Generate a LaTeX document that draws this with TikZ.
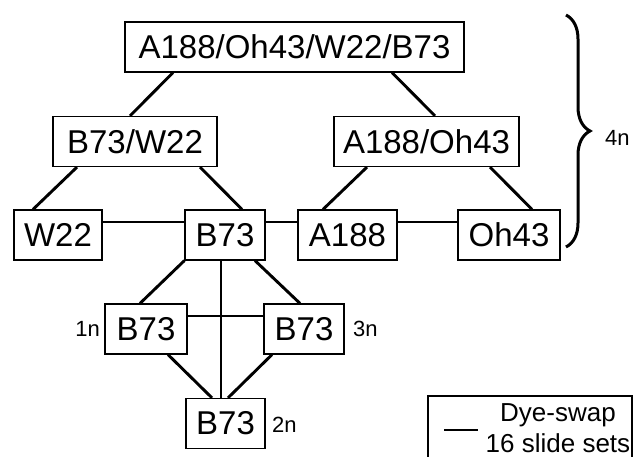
\documentclass[tikz,border=0pt]{standalone}
\usepackage{fontspec}
\setmainfont{Liberation Sans}
\usetikzlibrary{decorations.pathreplacing}

\begin{document}
\begin{tikzpicture}[x=1pt, y=-1pt,
  box/.style={draw, line width=1.2pt, inner sep=0pt, minimum height=50pt, font=\fontsize{33}{38}\selectfont},
  link/.style={line width=2.9pt},
  tag/.style={inner sep=0pt, font=\fontsize{22}{26}\selectfont}]
  \clip (0,0) rectangle (640,457);
  % pools of lines
  \node[box, minimum width=339pt] (all) at (294.5,47) {A188/Oh43/W22/B73};
  \node[box, minimum width=164pt] (bw) at (135,141.5) {B73/W22};
  \node[box, minimum width=185pt] (ao) at (426.5,141.5) {A188/Oh43};
  % single lines
  \node[box, minimum width=88pt] (w22) at (58,235) {W22};
  \node[box, minimum width=80pt] (b73) at (225,235) {B73};
  \node[box, minimum width=99pt] (a188) at (347.5,235) {A188};
  \node[box, minimum width=102pt] (oh43) at (509,235) {Oh43};
  % B73 self-hybridisations
  \node[box, minimum width=82pt] (b1) at (146,329) {B73};
  \node[box, minimum width=80pt] (b3) at (304,329) {B73};
  \node[box, minimum width=79pt] (b2) at (225.5,423.5) {B73};
  \node[tag, anchor=east] (t1) at (100,329) {1n};
  \node[tag, anchor=west] (t3) at (353,329) {3n};
  \node[tag, anchor=west] (t2) at (272,425) {2n};

  % dye-swaps
  \draw[link] ([xshift=-121.5pt]all.south) -- ([xshift=-5pt]bw.north);
  \draw[link] ([xshift=97.5pt]all.south) -- ([xshift=8.5pt]ao.north);
  \draw[link] ([xshift=-58pt]bw.south) -- ([xshift=-25pt]w22.north);
  \draw[link] ([xshift=65pt]bw.south) -- ([xshift=17pt]b73.north);
  \draw[link] ([xshift=-59.5pt]ao.south) -- ([xshift=-24.5pt]a188.north);
  \draw[link] ([xshift=63.5pt]ao.south) -- ([xshift=23pt]oh43.north);
  \draw[link] ([yshift=13pt]w22.east) -- ([yshift=13pt]b73.west);
  \draw[link] ([yshift=13pt]b73.east) -- ([yshift=13pt]a188.west);
  \draw[link] ([yshift=13pt]a188.east) -- ([yshift=13pt]oh43.west);
  \draw[link] (b73.south west) -- ([xshift=-6pt]b1.north);
  \draw[link] ([xshift=30pt]b73.south) -- ([xshift=-4pt]b3.north);
  \draw[link] ([xshift=-4pt]b73.south) -- ([xshift=-4.5pt]b2.north);
  \draw[link] ([yshift=13pt]b1.east) -- ([yshift=13pt]b3.west);
  \draw[link] ([xshift=22pt]b1.south) -- ([xshift=-13.5pt]b2.north);
  \draw[link] ([xshift=-32pt]b3.south) -- ([xshift=2.5pt]b2.north);

  % brace over the top three rows
  \draw[line width=3pt, decorate, decoration={brace, amplitude=24pt}] (566,15) -- (566,247);
  \node[tag, anchor=west] (t4) at (605,138) {4n};

  % legend
  \draw[line width=1.2pt] (428,396) rectangle (632,470);
  \coordinate (ka) at (444,430);
  \coordinate (kb) at (478,430);
  \draw[link] (ka) -- (kb);
  \node[align=center, inner sep=0pt, font=\fontsize{26}{31}\selectfont] (key) at (558,428) {Dye-swap\\16 slide sets};
\end{tikzpicture}
\end{document}
